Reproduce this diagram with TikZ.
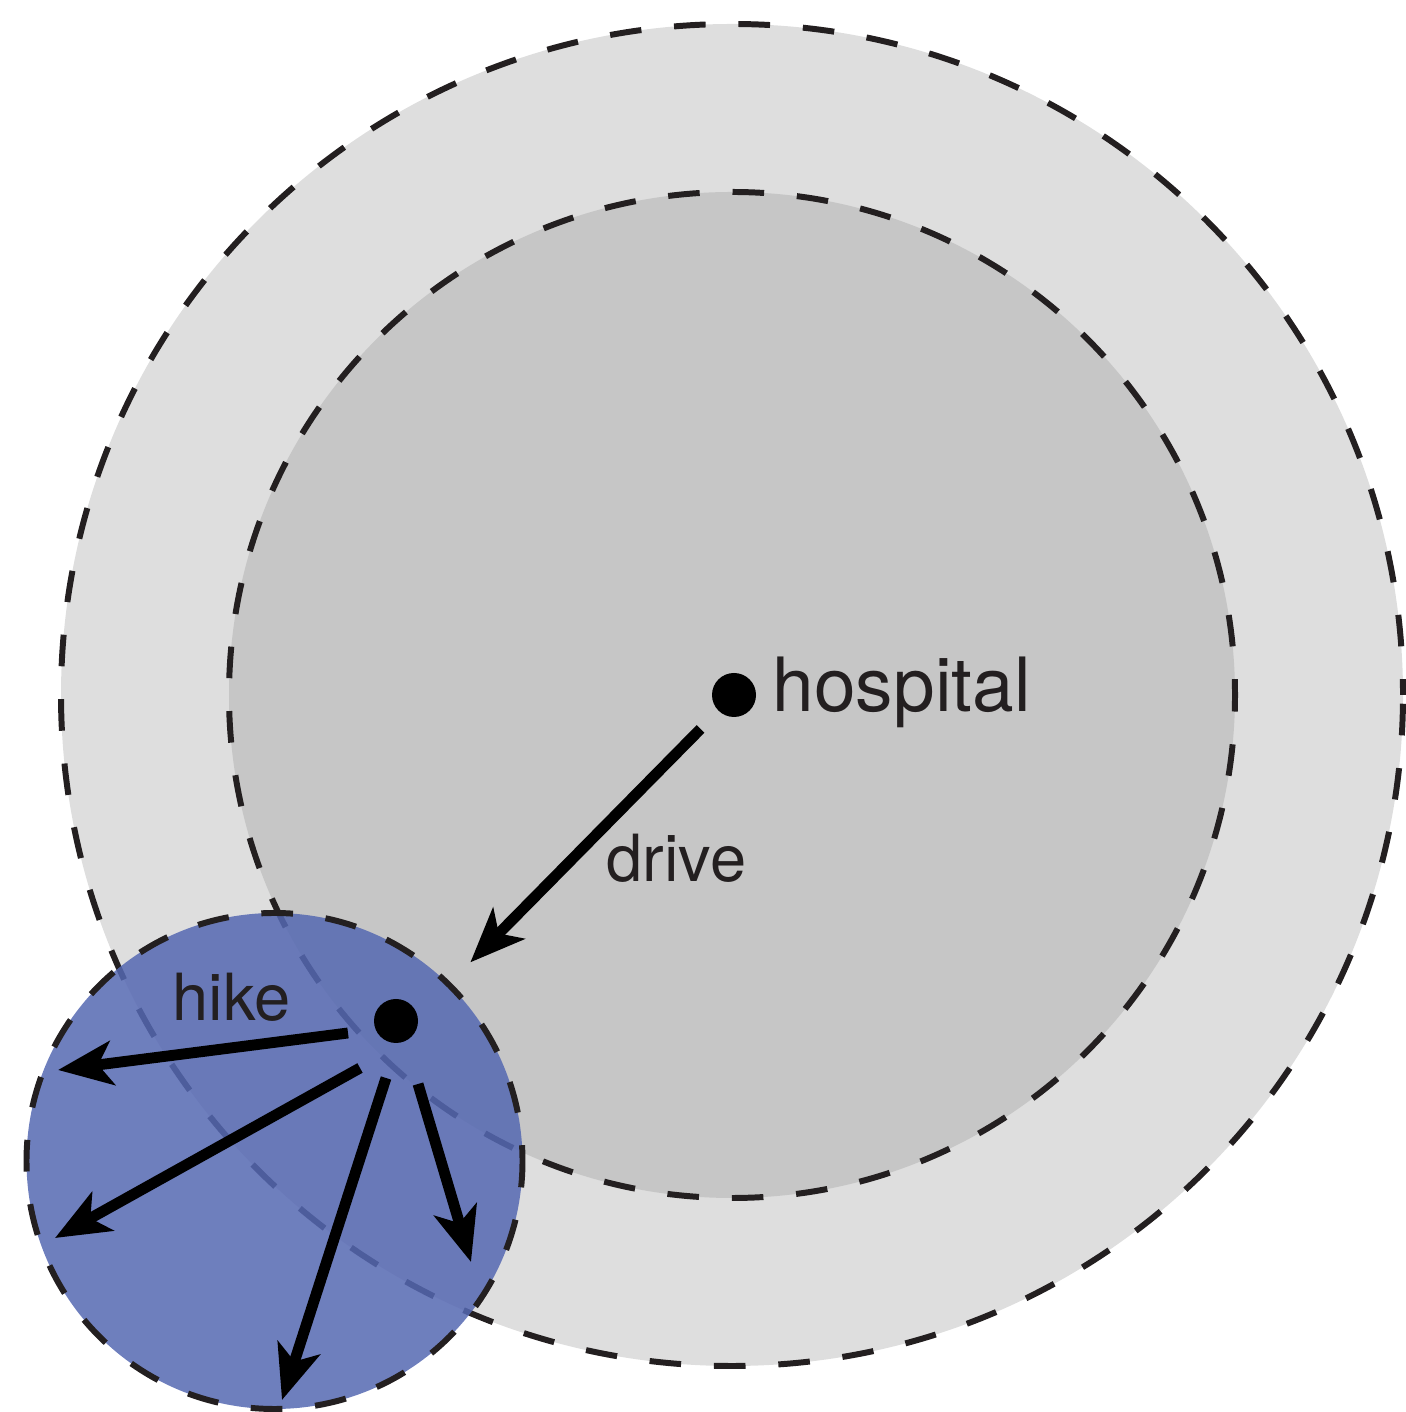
\documentclass[tikz,border=0pt]{standalone}
\usepackage{fontspec}
\setmainfont{TeX Gyre Heros}
\usetikzlibrary{arrows.meta}

\definecolor{inkdark}{HTML}{231F20}
\definecolor{ringouter}{HTML}{DEDEDE}
\definecolor{ringinner}{HTML}{C6C6C6}
\definecolor{hikeblue}{RGB}{85,104,178}

\tikzset{
  zone/.style={line width=1.7pt, draw=inkdark, dash pattern=on 9pt off 9.35pt, dash phase=4.5pt},
  spot/.style={circle, fill=black, inner sep=0pt, minimum size=0.44cm},
  route/.style={line width=3.1pt, -{Stealth[length=15.5pt, width=12.5pt, inset=4pt]}},
  tag/.style={anchor=base west, inner sep=0pt, text=inkdark, font=\fontsize{18.5}{21}\selectfont},
}

\begin{document}
\begin{tikzpicture}
  \useasboundingbox (0,0) rectangle (14.05,14.12);

  % Drive zones round the hospital
  \draw[zone, fill=ringouter] (7.32,7.17) circle (6.71);
  \draw[zone, fill=ringinner] (7.32,7.17) circle (5.03);

  % Hospital
  \node[spot] (hosp) at (7.34,7.17) {};
  \node[tag, font=\fontsize{21.3}{24}\selectfont] (hosplabel) at (7.72,7.00) {hospital};

  % Hiking area
  \node[zone, circle, inner sep=0pt, minimum size=4.96cm, fill=hikeblue, fill opacity=0.85] (hikezone) at (2.745,2.51) {};
  \node[spot] (hike) at (3.96,3.91) {};
  \node[tag] (hikelabel) at (1.72,3.91) {hike};

  % Drive out to the hiking area
  \draw[route, shorten <=0.25cm, shorten >=0.28cm] (hosp) -- (hikezone);
  \node[tag] (drivelabel) at (6.06,5.30) {drive};

  % Hikes from the trailhead
  \coordinate (w1) at (3.48,3.79);  \coordinate (e1) at (0.58,3.42);
  \coordinate (w2) at (3.60,3.44);  \coordinate (e2) at (0.55,1.74);
  \coordinate (w3) at (3.86,3.34);  \coordinate (e3) at (2.82,0.12);
  \coordinate (w4) at (4.18,3.28);  \coordinate (e4) at (4.71,1.50);
  \foreach \i in {1,...,4}
    \draw[route] (w\i) -- (e\i);
\end{tikzpicture}
\end{document}
